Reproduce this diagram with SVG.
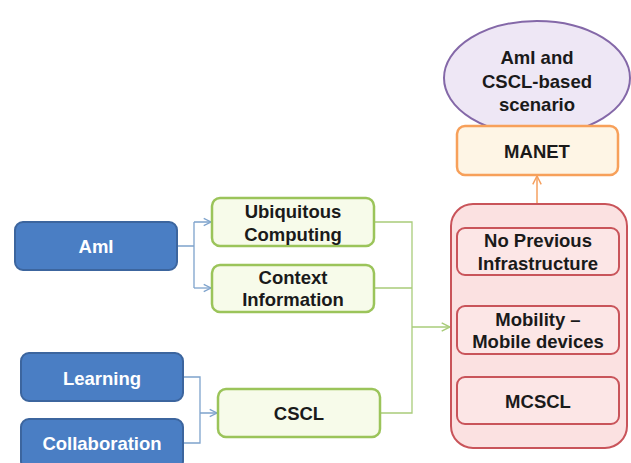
<svg xmlns="http://www.w3.org/2000/svg" width="631" height="463" viewBox="0 0 631 463">
<defs>
<style>
text{font-family:"Liberation Sans",Arial,sans-serif;font-weight:bold;font-size:18.5px;text-anchor:middle;dominant-baseline:central}
.blue rect{fill:#4a7ec4;stroke:#3c659e;stroke-width:2}
.blue text{fill:#fff}
.green rect{fill:#f7fbea;stroke:#9bc45a;stroke-width:2.5}
.red rect{fill:#fbe1e1;stroke:#c9545a;stroke-width:2}
text.dk{fill:#1a1a1a}
.bl{fill:none;stroke:#7ea3cc;stroke-width:1.3}
.gl{fill:none;stroke:#a9cc7a;stroke-width:1.3}
.ol{fill:none;stroke:#f5a060;stroke-width:1.5}
</style>
<marker id="ab" viewBox="0 0 10 10" refX="9" refY="5" markerWidth="7" markerHeight="7" orient="auto"><path d="M1,1 L9,5 L1,9" fill="none" stroke="#7ea3cc" stroke-width="1.4"/></marker>
<marker id="ag" viewBox="0 0 10 10" refX="9" refY="5" markerWidth="8" markerHeight="8" orient="auto"><path d="M1,1 L9,5 L1,9" fill="none" stroke="#a9cc7a" stroke-width="1.4"/></marker>
<marker id="ao" viewBox="0 0 10 10" refX="9" refY="5" markerWidth="7" markerHeight="7" orient="auto"><path d="M1,1 L9,5 L1,9" fill="none" stroke="#f5a060" stroke-width="1.4"/></marker>
</defs>
<rect width="631" height="463" fill="#fff"/>
<g id="connectors">
<path class="bl" d="M177,246 H194 M194,222 V288 M194,222 H211" marker-end="url(#ab)"/>
<path class="bl" d="M194,288 H211" marker-end="url(#ab)"/>
<path class="bl" d="M183,377 H200 V443 H183 M200,413 H217" marker-end="url(#ab)"/>
<path class="gl" d="M374,222 H412 V413 H380 M374,288 H412"/>
<path class="gl" d="M412,327 H450" marker-end="url(#ag)"/>
<path class="ol" d="M537,205 V176" marker-end="url(#ao)"/>
</g>
<g id="scenario">
<ellipse cx="537" cy="78" rx="93" ry="57" fill="#eee7f5" stroke="#8468a8" stroke-width="2"/>
<text class="dk" x="537" y="57">AmI and</text>
<text class="dk" x="537" y="81">CSCL-based</text>
<text class="dk" x="537" y="104">scenario</text>
</g>
<g id="manet">
<rect x="457" y="126" width="161" height="49" rx="8" fill="#fef5e5" stroke="#f7a05a" stroke-width="2.5"/>
<text class="dk" x="537" y="151">MANET</text>
</g>
<g id="ami" class="blue">
<rect x="15" y="222" width="162" height="48" rx="8"/>
<text x="96" y="246">AmI</text>
</g>
<g id="learning" class="blue">
<rect x="21" y="353" width="162" height="48" rx="8"/>
<text x="102" y="378">Learning</text>
</g>
<g id="collaboration" class="blue">
<rect x="21" y="419" width="162" height="50" rx="8"/>
<text x="102" y="443">Collaboration</text>
</g>
<g id="ubiquitous" class="green">
<rect x="212" y="198" width="162" height="48" rx="8"/>
<text class="dk" x="293" y="211">Ubiquitous</text>
<text class="dk" x="293" y="234">Computing</text>
</g>
<g id="context" class="green">
<rect x="212" y="265" width="162" height="47" rx="8"/>
<text class="dk" x="293" y="277">Context</text>
<text class="dk" x="293" y="299">Information</text>
</g>
<g id="cscl" class="green">
<rect x="218" y="389" width="162" height="48" rx="8"/>
<text class="dk" x="299" y="413">CSCL</text>
</g>
<g id="mobile-group" class="red">
<rect x="451" y="204" width="176" height="244" rx="22"/>
</g>
<g id="no-previous" class="red">
<rect x="457" y="228" width="162" height="47" rx="8" style="fill:#fce6e6"/>
<text class="dk" x="538" y="240">No Previous</text>
<text class="dk" x="538" y="263">Infrastructure</text>
</g>
<g id="mobility" class="red">
<rect x="457" y="306" width="162" height="48" rx="8" style="fill:#fce6e6"/>
<text class="dk" x="538" y="319">Mobility –</text>
<text class="dk" x="538" y="341">Mobile devices</text>
</g>
<g id="mcscl" class="red">
<rect x="457" y="377" width="162" height="47" rx="8" style="fill:#fce6e6"/>
<text class="dk" x="538" y="401">MCSCL</text>
</g>
</svg>
